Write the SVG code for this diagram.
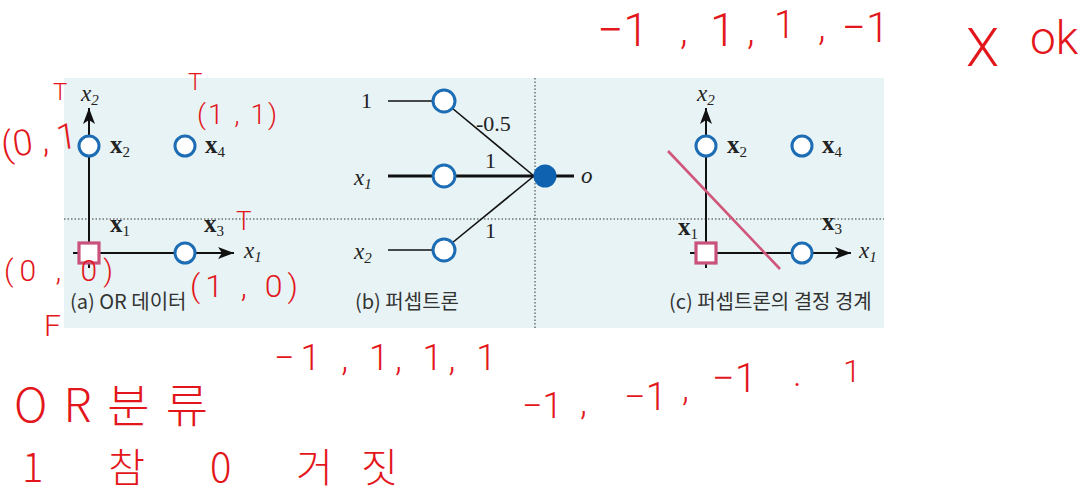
<svg xmlns="http://www.w3.org/2000/svg" width="1087" height="494" viewBox="0 0 1087 494">
<style>
.panel{fill:#e7f3f5}
.dot{stroke:#333;stroke-width:1;stroke-dasharray:1.5,2;fill:none}
.axis{stroke:#111;stroke-width:2;fill:none}
.blue{fill:#fff;stroke:#1d6db5;stroke-width:3}
.sq{fill:#fff;stroke:#c9527a;stroke-width:3.2}
.lbl{font-family:"Liberation Serif",serif;font-size:25px;font-weight:bold;fill:#222}
.ital{font-family:"Liberation Serif",serif;font-size:23px;font-style:italic;fill:#222}
.num{font-family:"Liberation Serif",serif;font-size:22px;fill:#222}
.sub{font-size:15px;font-weight:normal}
.cap{font-family:"Noto Sans CJK KR","Noto Sans",sans-serif;font-size:20px;fill:#333}
.edge{stroke:#111;stroke-width:1.6;fill:none}
.hw{font-family:Roboto,"Noto Sans CJK KR",sans-serif;font-weight:300;fill:#e3161b}
.hk{font-family:"Noto Sans CJK KR",sans-serif;font-weight:300;fill:#e3161b}
</style>
<defs>
<marker id="arr2" viewBox="0 0 16 12" refX="16" refY="6" markerWidth="16" markerHeight="12" markerUnits="userSpaceOnUse" orient="auto"><path d="M0,0 L16,6 L0,12 L4,6 Z" fill="#111"/></marker>
</defs>
<rect class="panel" x="64" y="78" width="820" height="250"/>
<g id="dividers">
<line class="dot" x1="64" y1="219" x2="884" y2="219"/>
<line class="dot" x1="535" y1="78" x2="535" y2="328"/>
</g>
<g id="panel-a">
<line class="axis" x1="89" y1="268" x2="89" y2="108" marker-end="url(#arr2)"/>
<line class="axis" x1="73" y1="253" x2="234" y2="253" marker-end="url(#arr2)"/>
<text class="ital" x="81" y="101">x<tspan class="sub" dy="4">2</tspan></text>
<text class="ital" x="244" y="258">x<tspan class="sub" dy="4">1</tspan></text>
<g id="a-x2"><circle class="blue" cx="89" cy="146" r="10"/><text class="lbl" x="110" y="153">x<tspan class="sub" dy="4">2</tspan></text></g>
<g id="a-x4"><circle class="blue" cx="185" cy="146" r="10"/><text class="lbl" x="205" y="153">x<tspan class="sub" dy="4">4</tspan></text></g>
<g id="a-x1"><rect class="sq" x="79" y="243" width="20" height="20"/><text class="lbl" x="110" y="232">x<tspan class="sub" dy="4">1</tspan></text></g>
<g id="a-x3"><circle class="blue" cx="185" cy="253" r="10"/><text class="lbl" x="204" y="232">x<tspan class="sub" dy="4">3</tspan></text></g>
<text class="cap" x="70" y="309">(a) OR 데이터</text>
</g>
<g id="connectors">
<line class="edge" x1="388" y1="101" x2="433" y2="101"/>
<line class="edge" x1="388" y1="250" x2="433" y2="250"/>
<line class="edge" x1="452" y1="108" x2="534" y2="176"/>
<line class="edge" x1="452" y1="243" x2="534" y2="176"/>
<line stroke="#111" stroke-width="3.2" x1="388" y1="176" x2="545" y2="176"/>
<line stroke="#111" stroke-width="3" x1="545" y1="176" x2="574" y2="176"/>
</g>
<g id="panel-b">
<g id="b-bias"><circle class="blue" cx="444" cy="101" r="11"/><text class="num" x="361" y="108">1</text></g>
<g id="b-x1"><circle class="blue" cx="444" cy="176" r="11"/><text class="ital" x="354" y="185">x<tspan class="sub" dy="4">1</tspan></text></g>
<g id="b-x2"><circle class="blue" cx="444" cy="250" r="11"/><text class="ital" x="354" y="259">x<tspan class="sub" dy="4">2</tspan></text></g>
<g id="b-out"><circle fill="#0f62b0" cx="545" cy="176" r="11.5"/><text class="ital" x="581" y="183">o</text></g>
<text class="num" x="476" y="131">-0.5</text>
<text class="num" x="485" y="168">1</text>
<text class="num" x="485" y="238">1</text>
<text class="cap" x="355" y="309">(b) 퍼셉트론</text>
</g>
<g id="panel-c">
<line class="axis" x1="706" y1="268" x2="706" y2="108" marker-end="url(#arr2)"/>
<line class="axis" x1="690" y1="253" x2="851" y2="253" marker-end="url(#arr2)"/>
<text class="ital" x="697" y="101">x<tspan class="sub" dy="4">2</tspan></text>
<text class="ital" x="859" y="258">x<tspan class="sub" dy="4">1</tspan></text>
<g id="c-x2"><circle class="blue" cx="706" cy="146" r="10"/><text class="lbl" x="727" y="153">x<tspan class="sub" dy="4">2</tspan></text></g>
<g id="c-x4"><circle class="blue" cx="802" cy="146" r="10"/><text class="lbl" x="822" y="153">x<tspan class="sub" dy="4">4</tspan></text></g>
<g id="c-x1"><rect class="sq" x="696" y="243" width="20" height="20"/><text class="lbl" x="678" y="235">x<tspan class="sub" dy="4">1</tspan></text></g>
<g id="c-x3"><circle class="blue" cx="802" cy="253" r="10"/><text class="lbl" x="822" y="230">x<tspan class="sub" dy="4">3</tspan></text></g>
<line id="boundary" x1="668" y1="151" x2="780" y2="269" stroke="#d0567a" stroke-width="2.6"/>
<text class="cap" x="669" y="309">(c) 퍼셉트론의 결정 경계</text>
</g>
<g id="annotations">
<text class="hw" font-size="46" x="597" y="46">−1</text>
<text class="hw" font-size="40" x="680" y="44">,</text>
<text class="hw" font-size="46" x="710" y="46">1</text>
<text class="hw" font-size="40" x="747" y="44">,</text>
<text class="hw" font-size="38" x="774" y="38">1</text>
<text class="hw" font-size="40" x="818" y="40">,</text>
<text class="hw" font-size="42" x="842" y="42">−1</text>
<text class="hw" font-size="54" x="966" y="66">X</text>
<text class="hw" font-size="46" x="1030" y="54">ok</text>
<text class="hw" font-size="24" x="53" y="100">T</text>
<text class="hw" font-size="36" x="3" y="158" transform="rotate(-8 3 158)">(0 , 1</text>
<text class="hw" font-size="24" x="188" y="90">T</text>
<text class="hw" font-size="28" x="197" y="124" letter-spacing="2">(1 , 1)</text>
<text class="hw" font-size="26" x="236" y="230">T</text>
<text class="hw" font-size="30" x="4" y="281" letter-spacing="6">(0 , 0)</text>
<text class="hw" font-size="30" x="44" y="336">F</text>
<text class="hw" font-size="32" x="190" y="297" letter-spacing="5">(1 , 0)</text>
<text class="hw" font-size="36" x="274" y="370" letter-spacing="6">−1 , 1, 1, 1</text>
<text class="hk" font-size="46" x="14" y="422" letter-spacing="16">OR분류</text>
<text class="hk" font-size="40" x="22" y="482" letter-spacing="28">1 참 0 거짓</text>
<text class="hw" font-size="36" x="522" y="418">−1</text>
<text class="hw" font-size="36" x="580" y="414">,</text>
<text class="hw" font-size="38" x="624" y="410">−1</text>
<text class="hw" font-size="36" x="682" y="400">,</text>
<text class="hw" font-size="40" x="712" y="392">−1</text>
<text class="hw" font-size="36" x="793" y="386">.</text>
<text class="hw" font-size="32" x="843" y="382">1</text>
</g>
</svg>
